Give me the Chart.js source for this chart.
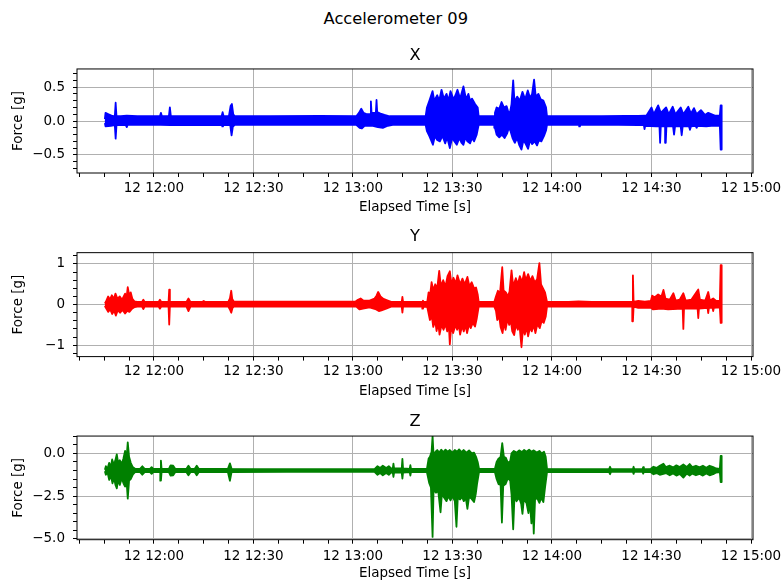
<!DOCTYPE html>
<html>
<head>
<meta charset="utf-8">
<script src="https://cdn.jsdelivr.net/npm/chart.js"></script>
<style>
  html, body { margin: 0; padding: 0; background: #ffffff; }
  body { width: 782px; height: 584px; position: relative; overflow: hidden; }
  canvas { position: absolute; left: 0; }
  #suptitle { position: absolute; left: 0; top: 9px; width: 791.6px; text-align: center;
    font-family: 'DejaVu Sans', 'Liberation Sans', sans-serif; font-size: 16.3px; line-height: 20px; color: #000; }
</style>
</head>
<body>
<div id="suptitle">Accelerometer 09</div>
<canvas id="cX" width="782" height="222" style="top:0px"></canvas>
<canvas id="cY" width="782" height="184" style="top:222px"></canvas>
<canvas id="cZ" width="782" height="178" style="top:406px"></canvas>
<script>
// ---------------- DATA (minutes since midnight, force in g) ----------------
// time axis: major tick values and their labels
const timeTicks = [720, 750, 780, 810, 840, 870, 900];
const timeLabels = ['12 12:00', '12 12:30', '12 13:00', '12 13:30', '12 14:00', '12 14:30', '12 15:00'];

// force axis ticks per panel
const xForceTicks = [-0.5, 0, 0.5];
const xForceLabels = ['\u22120.5', '0.0', '0.5'];
const yForceTicks = [-1, 0, 1];
const yForceLabels = ['\u22121', '0', '1'];
const zForceTicks = [-5, -2.5, 0];
const zForceLabels = ['\u22125.0', '\u22122.5', '0.0'];

// X axis signal envelope: [time, upper value] and [time, lower value]
const xUpper = [
  [705.2,0.03],[705.4,0.12],[706.3,0.10],[707.2,0.08],[708.2,0.07],[708.45,0.27],[708.7,0.07],[710.0,0.07],
  [711.8,0.08],[715.0,0.07],[721.8,0.07],[722.1,0.12],[722.4,0.07],[724.5,0.07],[724.8,0.20],[725.1,0.07],
  [730.0,0.07],[740.4,0.07],[740.7,0.13],[741.0,0.07],[742.6,0.07],[743.1,0.22],[743.5,0.25],[743.9,0.10],
  [744.4,0.07],[755.0,0.07],[770.0,0.075],[781.0,0.07],[781.8,0.12],[782.5,0.18],[783.2,0.12],[784.2,0.10],
  [785.2,0.10],[785.4,0.29],[785.6,0.12],[786.9,0.12],[787.1,0.31],[787.3,0.13],[788.3,0.11],[789.5,0.09],
  [791.0,0.07],[801.9,0.07],
  [802.3,0.20],[803.1,0.31],[804.0,0.44],[804.5,0.30],[805.4,0.38],[806.0,0.30],[806.7,0.46],[807.4,0.33],
  [808.2,0.40],[808.8,0.30],[809.4,0.44],[810.3,0.32],[810.9,0.38],[811.5,0.46],[812.3,0.33],[813.3,0.51],
  [814.1,0.32],[814.8,0.40],[815.3,0.30],[815.9,0.33],[816.8,0.25],[817.6,0.20],[817.9,0.07],[818.5,0.07],
  [822.6,0.07],
  [822.8,0.12],[823.3,0.20],[824.1,0.18],[824.8,0.28],[825.5,0.20],[826.3,0.22],[826.9,0.12],[827.4,0.14],
  [827.8,0.25],[828.3,0.60],[828.7,0.28],[829.5,0.36],[830.3,0.30],[831.1,0.43],[831.9,0.32],[832.7,0.45],
  [833.4,0.34],[834.0,0.40],[834.6,0.61],[835.1,0.36],[835.9,0.40],[836.6,0.32],[837.4,0.30],[838.2,0.20],
  [838.5,0.07],[840.0,0.07],[848.4,0.07],[855.0,0.07],[862.0,0.075],[866.0,0.075],[868.0,0.08],
  [868.5,0.08],[870.0,0.20],[870.7,0.10],[872.0,0.23],[872.8,0.12],[874.4,0.20],[875.2,0.10],[876.4,0.21],
  [877.2,0.10],[878.8,0.20],[879.6,0.10],[881.1,0.21],[881.9,0.11],[882.8,0.19],[883.6,0.10],[884.9,0.16],
  [886.1,0.09],[887.1,0.12],[889.1,0.08],[890.6,0.08],[890.85,0.23],[891.15,0.23]
];
const xLower = [
  [705.2,-0.03],[705.4,-0.08],[707.0,-0.07],[708.2,-0.06],[708.45,-0.26],[708.7,-0.06],[711.5,-0.06],[711.8,-0.09],
  [712.1,-0.055],[722.0,-0.055],[724.8,-0.06],[740.6,-0.055],[740.8,-0.08],[741.0,-0.055],[743.0,-0.06],[743.4,-0.21],
  [743.8,-0.08],[744.4,-0.055],[781.0,-0.055],[782.0,-0.10],[782.7,-0.11],[783.5,-0.07],[786.0,-0.07],[787.5,-0.09],
  [789.0,-0.10],[790.5,-0.07],[792.0,-0.055],[801.9,-0.055],
  [802.3,-0.15],[803.1,-0.23],[804.1,-0.35],[804.7,-0.22],[805.4,-0.28],[806.2,-0.30],[807.0,-0.22],[807.8,-0.33],
  [808.4,-0.24],[809.2,-0.40],[809.9,-0.25],[810.6,-0.30],[811.3,-0.35],[812.1,-0.25],[812.7,-0.32],[813.3,-0.35],
  [813.9,-0.24],[814.5,-0.30],[815.3,-0.33],[815.9,-0.25],[816.5,-0.30],[817.3,-0.20],[817.9,-0.055],[822.6,-0.055],
  [822.8,-0.10],[823.3,-0.20],[824.1,-0.24],[824.9,-0.20],[825.7,-0.25],[826.5,-0.18],[827.0,-0.10],[827.5,-0.15],
  [828.1,-0.25],[828.8,-0.32],[829.5,-0.25],[830.1,-0.35],[830.8,-0.42],[831.4,-0.28],[832.1,-0.34],[832.8,-0.41],
  [833.4,-0.28],[834.0,-0.34],[834.8,-0.30],[835.5,-0.36],[836.1,-0.28],[836.8,-0.30],[837.6,-0.22],[838.2,-0.14],
  [838.5,-0.055],[848.2,-0.055],[848.4,-0.08],[848.6,-0.055],[860.0,-0.055],[866.0,-0.06],[867.7,-0.06],[867.9,-0.12],
  [868.1,-0.07],[871.4,-0.08],[872.4,-0.08],[872.6,-0.32],[872.8,-0.08],[874.1,-0.08],[874.3,-0.32],[874.5,-0.08],
  [876.5,-0.08],[876.8,-0.20],[877.1,-0.08],[878.8,-0.08],[879.1,-0.21],[879.4,-0.08],[881.3,-0.08],[881.6,-0.13],
  [881.9,-0.08],[883.3,-0.07],[883.6,-0.10],[883.9,-0.07],[886.5,-0.08],[888.0,-0.07],[890.6,-0.07],
  [890.85,-0.42],[891.15,-0.42]
];

// Y axis signal envelope
const yUpper = [
  [705.2,0.03],[705.5,0.07],[706.2,0.20],[706.7,0.12],[707.3,0.23],[707.9,0.14],[708.4,0.27],[709.0,0.14],
  [709.7,0.20],[710.4,0.12],[711.3,0.27],[711.7,0.15],[712.1,0.43],[712.6,0.20],[713.0,0.30],[713.5,0.14],
  [714.1,0.08],[714.9,0.065],[716.4,0.065],[716.8,0.12],[717.2,0.065],[721.4,0.065],[721.8,0.12],[722.2,0.065],
  [724.4,0.065],[724.6,0.37],[724.8,0.065],[729.8,0.065],[730.4,0.15],[731.0,0.065],[734.5,0.065],[735.0,0.09],
  [735.5,0.065],[742.4,0.065],[742.9,0.15],[743.3,0.34],[743.6,0.14],[744.1,0.07],[760.0,0.075],[775.0,0.075],
  [780.8,0.075],[781.5,0.12],[782.3,0.15],[783.1,0.10],[785.0,0.10],[786.5,0.15],[787.1,0.22],[787.6,0.31],
  [788.3,0.20],[789.2,0.14],[790.5,0.10],[791.5,0.065],[794.7,0.065],[794.9,0.19],[795.1,0.065],[800.9,0.065],
  [801.1,0.10],[801.3,0.065],[802.4,0.07],
  [802.8,0.30],[803.2,0.20],[803.7,0.55],[804.2,0.35],[804.8,0.50],[805.4,0.40],[806.0,0.83],[806.5,0.45],
  [807.2,0.60],[807.9,0.45],[808.5,0.70],[809.2,0.82],[809.7,0.50],[810.3,0.66],[811.0,0.52],[811.5,0.72],
  [812.3,0.50],[813.0,0.64],[813.7,0.50],[814.5,0.68],[815.1,0.45],[815.8,0.55],[816.5,0.40],[817.1,0.42],
  [817.6,0.25],[817.9,0.065],[822.6,0.065],
  [823.1,0.20],[823.7,0.34],[824.3,0.25],[825.0,0.92],[825.4,0.35],[826.1,0.30],[826.7,0.20],[827.2,0.32],
  [827.8,0.84],[828.3,0.45],[829.1,0.65],[829.7,0.50],[830.3,0.70],[831.0,0.55],[831.6,0.80],[832.1,0.60],
  [832.8,0.75],[833.5,0.58],[834.1,0.70],[834.8,0.55],[835.5,0.62],[836.2,1.02],[836.7,0.50],[837.3,0.40],
  [837.9,0.30],[838.5,0.065],[845.0,0.065],[848.0,0.08],[852.0,0.065],[862.0,0.065],[864.2,0.065],[864.4,0.72],
  [864.6,0.065],[866.0,0.09],[868.0,0.07],[869.8,0.09],[870.2,0.22],[871.0,0.18],[872.0,0.25],[873.0,0.20],
  [873.6,0.36],[874.2,0.15],[875.5,0.12],[876.6,0.28],[877.3,0.10],[878.5,0.12],[879.6,0.28],[880.3,0.10],
  [882.0,0.12],[884.1,0.37],[884.6,0.12],[886.2,0.10],[887.1,0.31],[887.6,0.10],[888.6,0.15],[889.5,0.09],
  [890.6,0.09],[890.85,0.97],[891.15,0.97]
];
const yLower = [
  [705.2,-0.03],[705.5,-0.08],[706.2,-0.18],[706.8,-0.12],[707.4,-0.23],[708.0,-0.15],[708.5,-0.27],[709.1,-0.14],
  [709.8,-0.20],[710.5,-0.13],[711.3,-0.22],[712.0,-0.15],[712.6,-0.18],[713.4,-0.10],[714.2,-0.06],[715.0,-0.05],
  [716.4,-0.05],[716.8,-0.11],[717.2,-0.05],[721.4,-0.05],[721.8,-0.10],[722.2,-0.05],[724.4,-0.05],[724.6,-0.49],
  [724.8,-0.05],[729.8,-0.05],[730.4,-0.16],[731.0,-0.05],[742.4,-0.05],[742.9,-0.12],[743.3,-0.20],[743.7,-0.08],
  [744.1,-0.05],[781.0,-0.05],[782.0,-0.12],[783.0,-0.10],[785.0,-0.07],[787.0,-0.12],[787.8,-0.16],[788.6,-0.14],
  [790.0,-0.10],[791.5,-0.05],[794.7,-0.05],[794.9,-0.20],[795.1,-0.05],[800.9,-0.05],[801.1,-0.10],[801.3,-0.05],
  [802.4,-0.06],
  [803.2,-0.38],[803.8,-0.30],[804.2,-0.55],[804.8,-0.40],[805.2,-0.65],[805.7,-0.45],[806.1,-0.74],[806.7,-0.50],
  [807.3,-0.62],[807.9,-0.48],[808.4,-0.66],[808.9,-0.50],[809.2,-0.98],[809.6,-0.55],[810.2,-0.70],[810.9,-0.50],
  [811.4,-0.62],[811.9,-0.50],[812.3,-0.74],[812.9,-0.52],[813.4,-0.66],[813.9,-0.50],[814.4,-0.70],[815.0,-0.48],
  [815.5,-0.58],[816.1,-0.45],[816.8,-0.54],[817.3,-0.35],[817.9,-0.05],[822.6,-0.05],
  [823.1,-0.15],[823.5,-0.38],[824.1,-0.30],[824.5,-0.55],[825.1,-0.70],[825.5,-0.45],[826.0,-0.62],[826.6,-0.35],
  [827.1,-0.50],[827.6,-0.40],[828.0,-0.65],[828.6,-0.75],[829.1,-0.50],[829.7,-0.62],[830.2,-0.50],[830.8,-1.05],
  [831.3,-0.55],[831.8,-0.74],[832.3,-0.55],[832.8,-0.78],[833.4,-0.55],[833.9,-0.66],[834.5,-0.50],[835.0,-0.70],
  [835.6,-0.48],[836.3,-0.58],[836.9,-0.40],[837.5,-0.45],[838.1,-0.30],[838.5,-0.05],[862.0,-0.05],[864.2,-0.05],
  [864.4,-0.41],[864.6,-0.05],[866.0,-0.08],[869.8,-0.08],[870.5,-0.12],[873.0,-0.10],[875.0,-0.12],[879.4,-0.10],
  [879.6,-0.60],[879.8,-0.10],[881.0,-0.10],[883.9,-0.10],[884.1,-0.33],[884.3,-0.10],[886.9,-0.08],[887.1,-0.21],
  [887.3,-0.08],[888.4,-0.08],[888.6,-0.16],[888.8,-0.08],[890.6,-0.07],[890.85,-0.45],[891.15,-0.45]
];

// Z axis signal envelope
const zUpper = [
  [705.2,-0.95],[705.5,-0.75],[706.0,-0.90],[706.5,-0.55],[707.0,-0.80],[707.4,-0.35],[707.9,-0.65],[708.3,-0.45],
  [708.8,-0.05],[709.2,-0.55],[709.7,-0.40],[710.3,-0.60],[710.8,-0.30],[711.3,0.15],[711.7,-0.35],[712.1,0.65],
  [712.5,-0.20],[713.0,-0.55],[713.6,-0.80],[714.3,-0.90],[715.8,-0.90],[716.5,-0.75],[717.2,-0.90],[718.8,-0.90],
  [719.3,-0.80],[719.8,-0.90],[721.9,-0.90],[722.1,-0.42],[722.3,-0.90],[724.5,-0.90],[725.0,-0.70],[725.8,-0.72],
  [726.4,-0.90],[729.8,-0.90],[730.4,-0.72],[731.0,-0.90],[732.3,-0.90],[732.9,-0.72],[733.5,-0.90],[742.3,-0.90],
  [742.9,-0.58],[743.4,-0.90],[760.0,-0.92],[780.0,-0.92],[786.5,-0.92],[787.4,-0.75],[788.2,-0.85],[789.0,-0.72],
  [790.0,-0.85],[790.8,-0.75],[791.5,-0.88],[792.0,-0.88],[792.2,-0.60],[792.4,-0.88],[794.7,-0.88],[794.9,-0.32],
  [795.1,-0.88],[797.1,-0.90],[797.3,-0.68],[797.5,-0.90],[802.3,-0.90],
  [802.8,-0.30],[803.2,-0.20],[803.7,0.10],[804.0,1.02],[804.3,-0.10],[804.9,0.10],[805.4,0.20],[806.0,0.05],
  [806.6,0.22],[807.2,0.08],[807.9,0.22],[808.6,0.10],[809.2,0.20],[810.0,0.05],[810.7,0.20],[811.4,0.10],
  [812.0,0.24],[812.7,0.08],[813.4,0.20],[814.2,0.05],[815.0,0.18],[815.8,0.00],[816.5,0.05],[817.1,-0.20],
  [817.6,-0.50],[818.0,-0.90],[822.8,-0.90],
  [823.3,-0.50],[823.9,-0.30],[824.5,-0.20],[825.0,0.60],[825.5,-0.20],[826.1,-0.25],[826.7,-0.55],[827.4,-0.45],
  [827.8,0.00],[828.5,0.15],[829.3,0.05],[830.1,0.18],[830.9,0.08],[831.6,0.20],[832.3,0.10],[833.1,0.22],
  [833.8,0.10],[834.5,0.18],[835.4,0.05],[836.2,0.15],[836.9,0.00],[837.6,0.10],[838.1,-0.20],[838.5,-0.90],
  [857.2,-0.92],[857.5,-0.78],[857.8,-0.92],[864.4,-0.92],[864.6,-0.78],[864.8,-0.92],[867.3,-0.92],[867.5,-0.80],
  [867.7,-0.92],[869.8,-0.90],[870.6,-0.78],[871.5,-0.85],[872.5,-0.72],[873.6,-0.60],[874.3,-0.80],[875.5,-0.72],
  [876.5,-0.82],[877.5,-0.70],[878.5,-0.80],[879.6,-0.65],[880.6,-0.80],[881.5,-0.62],[882.3,-0.80],[883.4,-0.72],
  [884.5,-0.82],[885.5,-0.72],[886.5,-0.84],[887.5,-0.72],[888.6,-0.80],[889.5,-0.88],[890.6,-0.90],
  [890.85,-0.15],[891.15,-0.15]
];
const zLower = [
  [705.2,-1.05],[705.5,-1.25],[706.0,-1.10],[706.5,-1.55],[707.0,-1.30],[707.5,-1.75],[708.0,-1.45],[708.4,-1.85],
  [708.8,-2.05],[709.2,-1.55],[709.7,-1.85],[710.3,-1.45],[710.8,-1.75],[711.3,-1.95],[711.7,-1.50],[712.1,-2.65],
  [712.5,-1.60],[713.0,-1.50],[713.6,-1.25],[714.3,-1.10],[715.8,-1.10],[716.5,-1.25],[717.2,-1.10],[718.8,-1.10],
  [719.3,-1.20],[719.8,-1.10],[721.9,-1.10],[722.1,-1.60],[722.3,-1.10],[724.5,-1.10],[725.0,-1.30],[725.8,-1.28],
  [726.4,-1.10],[729.8,-1.10],[730.4,-1.28],[731.0,-1.10],[732.3,-1.10],[732.9,-1.28],[733.5,-1.10],[742.3,-1.10],
  [742.9,-1.60],[743.4,-1.10],[760.0,-1.08],[780.0,-1.08],[786.5,-1.08],[787.4,-1.25],[788.2,-1.15],[789.0,-1.28],
  [790.0,-1.15],[790.8,-1.25],[791.5,-1.12],[792.0,-1.12],[792.2,-1.38],[792.4,-1.12],[794.7,-1.12],[794.9,-1.48],
  [795.1,-1.12],[797.1,-1.10],[797.3,-1.30],[797.5,-1.10],[802.3,-1.10],
  [803.0,-1.75],[803.5,-2.00],[804.0,-4.90],[804.3,-2.10],[805.0,-2.30],[805.7,-2.20],[806.4,-3.45],[806.8,-2.40],
  [807.5,-2.60],[808.2,-2.80],[808.8,-2.50],[809.4,-2.75],[810.0,-2.50],[810.7,-2.80],[811.2,-4.30],[811.6,-2.60],
  [812.3,-2.70],[812.9,-2.55],[813.4,-2.80],[814.0,-2.60],[814.5,-3.25],[815.0,-2.55],[815.7,-2.65],[816.5,-2.85],
  [817.0,-2.40],[817.4,-1.80],[818.0,-1.10],[822.8,-1.10],
  [823.3,-1.50],[823.9,-1.80],[824.5,-1.85],[824.9,-4.05],[825.3,-1.90],[826.0,-1.80],[826.7,-1.45],[827.4,-1.60],
  [827.8,-2.40],[828.3,-4.45],[828.7,-2.50],[829.3,-2.80],[830.1,-2.60],[830.7,-2.95],[831.1,-3.55],[831.5,-2.70],
  [832.3,-2.90],[832.9,-3.50],[833.3,-2.80],[833.8,-4.10],[834.2,-3.00],[834.5,-4.70],[834.9,-2.70],[835.5,-2.60],
  [836.2,-2.90],[836.8,-2.60],[837.4,-2.85],[837.9,-2.00],[838.5,-1.10],
  [857.2,-1.08],[857.5,-1.22],[857.8,-1.08],[864.4,-1.08],[864.6,-1.20],[864.8,-1.08],[867.3,-1.08],[867.5,-1.18],
  [867.7,-1.08],[869.8,-1.10],[870.6,-1.22],[871.5,-1.15],[872.5,-1.25],[873.6,-1.20],[874.3,-1.15],[875.5,-1.28],
  [876.5,-1.18],[877.5,-1.30],[878.5,-1.20],[879.6,-1.42],[880.6,-1.18],[881.5,-1.30],[882.3,-1.18],[883.4,-1.28],
  [884.5,-1.20],[885.5,-1.30],[886.5,-1.18],[887.5,-1.28],[888.6,-1.22],[889.5,-1.12],[890.6,-1.10],
  [890.85,-1.68],[891.15,-1.68]
];

// ---------------- BUILD ----------------
const FONT = "'DejaVu Sans', 'Liberation Sans', sans-serif";
const TIME_MIN = 696.8, TIME_MAX = 900.6;
const TIME_MINOR_STEP = 7.5;

function envelopeShape(upper, lower) {
  const pts = upper.map(p => ({x: p[0], y: p[1]}));
  for (let i = lower.length - 1; i >= 0; i--) pts.push({x: lower[i][0], y: lower[i][1]});
  return pts;
}
function near(a, b) { return Math.abs(a - b) < 1e-6; }
function majorIndex(list, v) { for (let i = 0; i < list.length; i++) if (near(list[i], v)) return i; return -1; }

function minorList(lo, hi, step) {
  const out = [];
  const k0 = Math.ceil(lo / step - 1e-9), k1 = Math.floor(hi / step + 1e-9);
  for (let k = k0; k <= k1; k++) out.push(Math.round(k * step * 1e6) / 1e6);
  return out;
}

const framePlugin = {
  id: 'frame',
  afterDatasetsDraw(chart) {
    const {ctx, chartArea: a} = chart;
    ctx.save();
    ctx.strokeStyle = '#000000';
    ctx.lineWidth = 1;
    ctx.strokeRect(a.left, a.top, a.right - a.left, a.bottom - a.top);
    ctx.restore();
  }
};

function makeChart(id, cfg) {
  const timeTickVals = minorList(TIME_MIN, TIME_MAX, TIME_MINOR_STEP);
  const forceTickVals = minorList(cfg.yMin, cfg.yMax, cfg.yMinor);
  return new Chart(document.getElementById(id), {
    type: 'line',
    data: {
      datasets: [{
        data: envelopeShape(cfg.upper, cfg.lower),
        borderColor: cfg.color,
        backgroundColor: cfg.color,
        borderWidth: 1.8,
        borderJoinStyle: 'round',
        pointRadius: 0,
        fill: 'shape',
        tension: 0
      }]
    },
    options: {
      responsive: false,
      animation: false,
      events: [],
      layout: {padding: {left: 0, right: 29, top: 0, bottom: 0}},
      plugins: {
        legend: {display: false},
        tooltip: {enabled: false},
        title: {
          display: true, text: cfg.title, color: '#000', fullSize: false,
          font: {family: FONT, size: 16.3, weight: 'normal', lineHeight: 1.2},
          padding: cfg.titlePad
        }
      },
      scales: {
        x: {
          type: 'linear', min: TIME_MIN, max: TIME_MAX,
          afterBuildTicks: s => { s.ticks = timeTickVals.map(v => ({value: v})); },
          afterFit: s => { s.height = cfg.xAxisH; s.paddingLeft = 0; s.paddingRight = 0; },
          ticks: {
            autoSkip: false, maxRotation: 0, minRotation: 0, padding: cfg.xTickPad,
            color: '#000', font: {family: FONT, size: 13.5},
            callback: v => { const i = majorIndex(timeTicks, v); return i >= 0 ? timeLabels[i] : ''; }
          },
          grid: {
            color: c => (c.tick && majorIndex(timeTicks, c.tick.value) >= 0) ? '#b0b0b0' : 'rgba(0,0,0,0)',
            lineWidth: 1, drawTicks: true, tickLength: 4, tickColor: '#000', tickWidth: 1
          },
          border: {display: false},
          title: {
            display: true, text: 'Elapsed Time [s]', color: '#000',
            font: {family: FONT, size: 13.5, lineHeight: 1.2},
            padding: {top: 0, bottom: cfg.xTitlePad}
          }
        },
        y: {
          type: 'linear', min: cfg.yMin, max: cfg.yMax,
          afterBuildTicks: s => { s.ticks = forceTickVals.map(v => ({value: v})); },
          afterFit: s => { s.width = 77; },
          ticks: {
            autoSkip: false, padding: 8, color: '#000', font: {family: FONT, size: 13.5},
            callback: v => { const i = majorIndex(cfg.yTicks, v); return i >= 0 ? cfg.yLabels[i] : ''; }
          },
          grid: {
            color: c => (c.tick && majorIndex(cfg.yTicks, c.tick.value) >= 0) ? '#b0b0b0' : 'rgba(0,0,0,0)',
            lineWidth: 1, drawTicks: true, tickLength: 4, tickColor: '#000', tickWidth: 1
          },
          border: {display: false},
          title: {
            display: true, text: 'Force [g]', color: '#000',
            font: {family: FONT, size: 13.5, lineHeight: 1.2},
            padding: {top: 10.4, bottom: 0}
          }
        }
      }
    },
    plugins: [framePlugin]
  });
}

makeChart('cX', {
  title: 'X', titlePad: {top: 45.7, bottom: 3.7},
  upper: xUpper, lower: xLower, color: '#0000ff',
  yMin: -0.766, yMax: 0.767, yMinor: 0.1, yTicks: xForceTicks, yLabels: xForceLabels,
  xAxisH: 49, xTickPad: 3, xTitlePad: 6.4
});
makeChart('cY', {
  title: 'Y', titlePad: {top: 5.4, bottom: 5.7},
  upper: yUpper, lower: yLower, color: '#ff0000',
  yMin: -1.28, yMax: 1.278, yMinor: 0.2, yTicks: yForceTicks, yLabels: yForceLabels,
  xAxisH: 49.4, xTickPad: 3, xTitlePad: 6.9
});
makeChart('cZ', {
  title: 'Z', titlePad: {top: 6.4, bottom: 4.1},
  upper: zUpper, lower: zLower, color: '#008000',
  yMin: -5.06, yMax: 1.02, yMinor: 0.5, yTicks: zForceTicks, yLabels: zForceLabels,
  xAxisH: 44.3, xTickPad: 5, xTitlePad: 2.4
});
</script>
</body>
</html>
